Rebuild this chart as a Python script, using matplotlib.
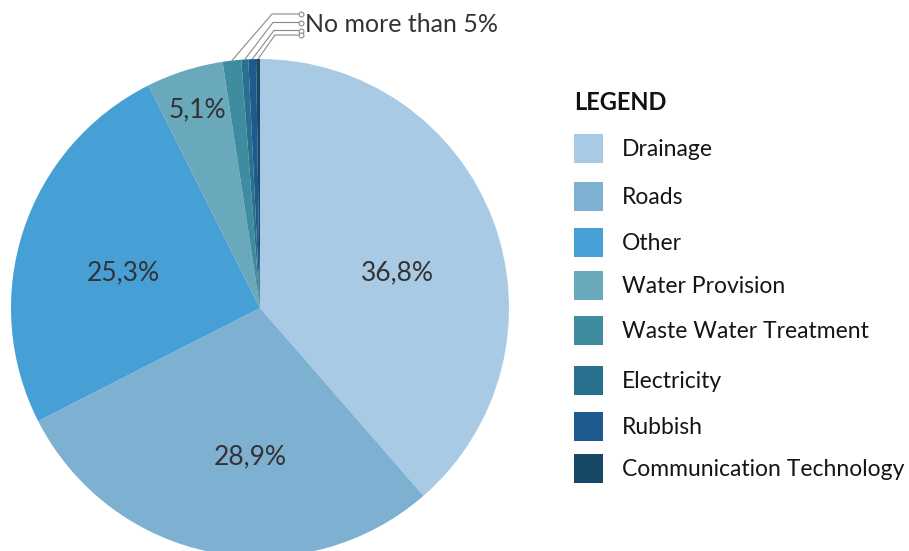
import numpy as np
import matplotlib
matplotlib.use("Agg")
import matplotlib.pyplot as plt
from matplotlib.patches import Rectangle

categories = ["Drainage", "Roads", "Other", "Water Provision",
              "Waste Water Treatment", "Electricity", "Rubbish",
              "Communication Technology"]
values = [38.6, 28.9, 25.1, 5.0, 1.2, 0.45, 0.5, 0.25]
pct_labels = ["36,8%", "28,9%", "25,3%", "5,1%", None, None, None, None]
colors = ["#a8cae4", "#7eb0d1", "#46a0d6", "#6aa8bb",
          "#3f8ba0", "#27718f", "#1f5a8e", "#174866"]
small_note = "No more than 5%"
legend_title = "LEGEND"

FONT = ["Lato", "DejaVu Sans"]
plt.rcParams['font.family'] = FONT

W, H = 909, 551
fig = plt.figure(figsize=(W / 100, H / 100), dpi=100)
ax = fig.add_axes([0, 0, 1, 1])

def py(y):  # pixel y (top-down) to data y
    return H - y

cx, cy, R = 260, py(308), 249
wedges, _ = ax.pie(values, colors=colors, startangle=90, counterclock=False,
                   center=(cx, cy), radius=R, frame=True,
                   wedgeprops=dict(linewidth=0))
ax.set_xlim(0, W)
ax.set_ylim(0, H)
ax.set_aspect('equal')
ax.axis('off')

# label placement: radial distance (fraction of R) and angular offset (deg)
dists = [0.57, 0.60, 0.565, 0.836]
offsets = [-6.3, 7.2, 3.9, 0.0]
for w, lab, d, off in zip(wedges, pct_labels, dists + [0] * 4, offsets + [0] * 4):
    if lab is None:
        continue
    ang = np.deg2rad((w.theta1 + w.theta2) / 2 + off)
    ax.text(cx + d * R * np.cos(ang), cy + d * R * np.sin(ang), lab,
            ha='center', va='center', fontsize=19, color='#333333')

# leader lines for the small slices
elbow_y = [14, 22.5, 30.5, 35]
elbow_x = [272, 273, 274, 275]
for i, w in enumerate(wedges[4:]):
    ang = np.deg2rad((w.theta1 + w.theta2) / 2)
    sx, sy = cx + R * np.cos(ang), cy + R * np.sin(ang)
    ex, ey = elbow_x[i], py(elbow_y[i])
    ax.plot([sx, ex, 300], [sy, ey, ey], color='#8a8a8a', lw=0.8,
            solid_capstyle='butt')
    ax.plot([301], [ey], marker='o', ms=3.5, mfc='white', mec='#8a8a8a',
            mew=0.8)
ax.text(305, py(25), small_note, ha='left', va='center', fontsize=18,
        color='#333333')

# legend
ax.text(574, py(102), legend_title, ha='left', va='center', fontsize=17,
        fontweight='bold', color='#111111')
row_y = [148, 196, 242, 285, 330, 380, 426, 468]
for c, name, yy in zip(colors, categories, row_y):
    ax.add_patch(Rectangle((574, py(yy) - 14.5), 29, 29, facecolor=c,
                           edgecolor='none'))
    ax.text(622, py(yy + 1.5), name, ha='left', va='center', fontsize=16.5,
            color='#151515')

fig.savefig("out.png", dpi=100)
